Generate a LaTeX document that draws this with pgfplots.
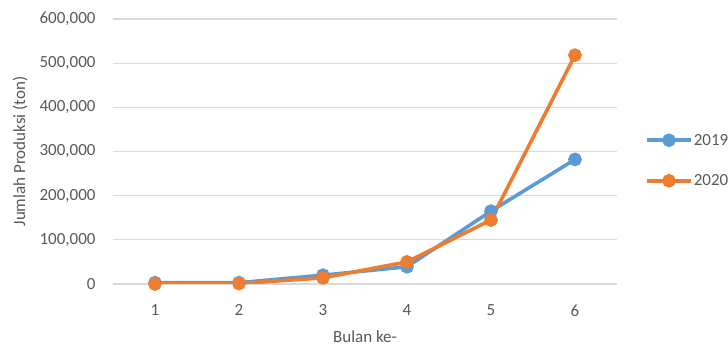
\documentclass[border=0pt]{standalone}
\usepackage{pgfplots}
\pgfplotsset{compat=1.18}
\usepackage{fontspec}
\setmainfont{Carlito}
\definecolor{seriesA}{HTML}{5B9BD5}
\definecolor{seriesB}{HTML}{ED7D31}
\definecolor{txt}{HTML}{595959}
\definecolor{gridc}{HTML}{D9D9D9}
\begin{document}
\begin{tikzpicture}
\useasboundingbox (-113bp,-63bp) rectangle (615bp,284bp);
\begin{axis}[
  at={(0,0)}, anchor=south west,
  scale only axis, width=504bp, height=265bp,
  xmin=0.5, xmax=6.5, ymin=0, ymax=600000,
  xtick={1,2,3,4,5,6},
  xticklabels={1,2,3,4,5,6},
  ytick={0,100000,200000,300000,400000,500000,600000},
  yticklabels={0,{100,000},{200,000},{300,000},{400,000},{500,000},{600,000}},
  axis line style={draw=none},
  major tick length=0pt,
  ymajorgrids, grid style={gridc, line width=1.2bp},
  scaled y ticks=false,
  font=\fontsize{17bp}{20bp}\selectfont,
  ticklabel style={text=txt},
  yticklabel style={xshift=-14bp},
  xticklabel style={yshift=-17bp},
  xlabel={Bulan ke-}, ylabel={Jumlah Produksi (ton)},
  every axis x label/.style={at={(rel axis cs:0.5,0)}, anchor=center, yshift=-53bp, text=txt},
  every axis y label/.style={at={([xshift=-93bp]rel axis cs:0,0.5)}, anchor=center, rotate=90, text=txt},
  legend style={at={(rel axis cs:1,0.466)}, anchor=west, xshift=28bp, draw=none, fill=none,
    inner sep=0pt, row sep=26bp, text=txt, font=\fontsize{17bp}{20bp}\selectfont,
    nodes={inner sep=1bp}},
  legend cell align=left,
  legend image code/.code={\draw[mark repeat=2,mark phase=2,#1] plot coordinates {(0bp,0bp) (22bp,0bp) (44bp,0bp)};},
  every axis plot/.append style={line width=3.6bp, mark=*, mark size=5bp, mark options={solid}},
]
\addplot[seriesA, mark options={fill=seriesA, draw=seriesA}] coordinates {
  (1,3000) (2,3000) (3,20000) (4,39000) (5,165000) (6,282000)
};
\addlegendentry{2019}
\addplot[seriesB, mark options={fill=seriesB, draw=seriesB}] coordinates {
  (1,0) (2,1000) (3,14000) (4,50000) (5,145000) (6,518000)
};
\addlegendentry{2020}
\end{axis}
\end{tikzpicture}
\end{document}
